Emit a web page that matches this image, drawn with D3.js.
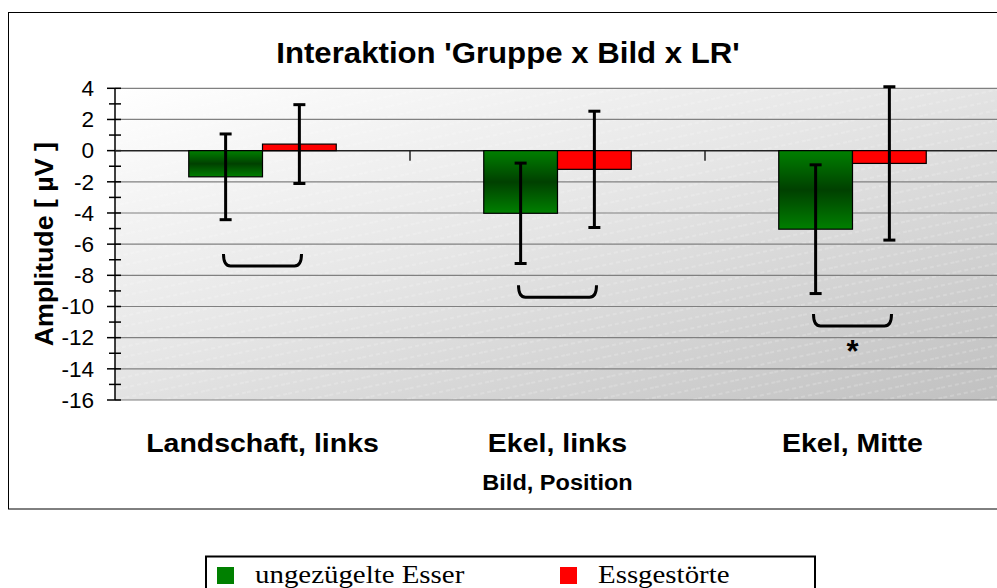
<!DOCTYPE html>
<html>
<head>
<meta charset="utf-8">
<script src="https://cdn.jsdelivr.net/npm/d3@7"></script>
<style>
  html, body { margin: 0; padding: 0; background: #ffffff; }
  svg { display: block; }
</style>
</head>
<body>
<svg id="chart" width="997" height="588"></svg>
<script>
// ---- data ----
const categories = ["Landschaft, links", "Ekel, links", "Ekel, Mitte"];
const seriesNames = ["ungezügelte Esser", "Essgestörte"];
const ungezuegelt = [-1.68, -4.02, -5.04];
const ungezuegeltErr = [2.75, 3.22, 4.13];
const essgestoert = [0.42, -1.2, -0.82];
const essgestoertErr = [2.53, 3.73, 4.92];
const yTicks = [-16, -14, -12, -10, -8, -6, -4, -2, 0, 2, 4];
const bracketLevels = [-7.4, -9.4, -11.25];
const significance = ["", "", "*"];

const titleText = "Interaktion 'Gruppe x Bild x LR'";
const yLabel = "Amplitude [ µV ]";
const xLabel = "Bild, Position";
const seriesColors = ["#008000", "#ff0000"];

// ---- layout ----
const svg = d3.select("#chart");
const plot = { left: 115, right: 1000, top: 88.3, bottom: 400 };
const sans = "Arial, 'Liberation Sans', Helvetica, sans-serif";
const serif = "'Times New Roman', 'Liberation Serif', serif";

const x = d3.scaleBand().domain(categories).range([plot.left, plot.right]);
const groupWidth = x.bandwidth() / 2;
const x1 = d3.scaleBand().domain(seriesNames).range([0, groupWidth]);
const y = d3.scaleLinear().domain([-16, 4]).range([plot.bottom, plot.top]);

// widen text slightly so its measured width follows the given factor
function stretch(sel, k) {
  sel.each(function () {
    const w = this.getComputedTextLength();
    d3.select(this).attr("textLength", w * k).attr("lengthAdjust", "spacingAndGlyphs");
  });
}

const defs = svg.append("defs");
const bg = defs.append("linearGradient").attr("id", "bgGrad")
  .attr("x1", 0).attr("y1", 0).attr("x2", 1).attr("y2", 1);
bg.append("stop").attr("offset", "0%").attr("stop-color", "#ffffff");
bg.append("stop").attr("offset", "45%").attr("stop-color", "#e6e6e6");
bg.append("stop").attr("offset", "100%").attr("stop-color", "#c0c0c0");

const tube = defs.append("linearGradient").attr("id", "greenTube")
  .attr("x1", 0).attr("y1", 0).attr("x2", 0).attr("y2", 1);
tube.append("stop").attr("offset", "0%").attr("stop-color", "#008000");
tube.append("stop").attr("offset", "50%").attr("stop-color", "#004000");
tube.append("stop").attr("offset", "100%").attr("stop-color", "#008000");

const pat = defs.append("pattern").attr("id", "hatch")
  .attr("patternUnits", "userSpaceOnUse").attr("width", 40).attr("height", 10)
  .attr("patternTransform", "rotate(-12)");
pat.append("line").attr("x1", 0).attr("x2", 40).attr("y1", 5).attr("y2", 5)
  .attr("stroke", "#ffffff").attr("stroke-width", 1)
  .attr("stroke-dasharray", "4 3").attr("stroke-opacity", 0.35);

// outer chart frame
svg.append("rect").attr("x", 8.5).attr("y", 12.5).attr("width", 1010).attr("height", 496.5)
  .attr("fill", "#ffffff").attr("stroke", "#000000").attr("stroke-width", 1);

// plot background
svg.append("rect").attr("x", plot.left).attr("y", plot.top)
  .attr("width", plot.right - plot.left).attr("height", plot.bottom - plot.top)
  .attr("fill", "url(#bgGrad)");
svg.append("rect").attr("x", plot.left).attr("y", plot.top)
  .attr("width", plot.right - plot.left).attr("height", plot.bottom - plot.top)
  .attr("fill", "url(#hatch)");

// gridlines
svg.append("g").selectAll("line").data(yTicks.filter(d => d !== 0)).join("line")
  .attr("x1", plot.left).attr("x2", plot.right)
  .attr("y1", d => y(d)).attr("y2", d => y(d))
  .attr("stroke", "#808080").attr("stroke-width", 1.2);

// y axis
const yAxis = svg.append("g").attr("transform", `translate(${plot.left},0)`);
yAxis.append("line").attr("y1", plot.top).attr("y2", plot.bottom)
  .attr("stroke", "#000").attr("stroke-width", 1.5);
yAxis.selectAll("line.minor").data(d3.range(-15, 5, 2)).join("line").attr("class", "minor")
  .attr("x1", -6).attr("x2", 6).attr("y1", d => y(d)).attr("y2", d => y(d))
  .attr("stroke", "#000").attr("stroke-width", 1.5);
yAxis.selectAll("line.major").data(yTicks).join("line").attr("class", "major")
  .attr("x1", -8).attr("x2", 6).attr("y1", d => y(d)).attr("y2", d => y(d))
  .attr("stroke", "#000").attr("stroke-width", 1.5);
yAxis.selectAll("text").data(yTicks).join("text")
  .attr("x", -21).attr("y", d => y(d)).attr("dy", "0.36em")
  .attr("text-anchor", "end").attr("font-family", sans).attr("font-size", 21.5)
  .text(d => d).call(stretch, 1.05);

// category axis along zero
const xAxis = svg.append("g");
xAxis.append("line").attr("x1", plot.left).attr("x2", plot.right)
  .attr("y1", y(0)).attr("y2", y(0)).attr("stroke", "#222").attr("stroke-width", 1.5);
xAxis.selectAll("line.tick").data(categories.slice(1)).join("line").attr("class", "tick")
  .attr("x1", d => x(d)).attr("x2", d => x(d))
  .attr("y1", y(0)).attr("y2", y(0) + 10)
  .attr("stroke", "#222").attr("stroke-width", 1.5);

// bars
const series = [
  { name: seriesNames[0], values: ungezuegelt, err: ungezuegeltErr, fill: "url(#greenTube)" },
  { name: seriesNames[1], values: essgestoert, err: essgestoertErr, fill: seriesColors[1] }
];
const groupStart = c => x(c) + (x.bandwidth() - groupWidth) / 2;
const bars = [];
series.forEach(s => categories.forEach((c, i) => bars.push({
  c, i, name: s.name, v: s.values[i], e: s.err[i], fill: s.fill
})));

svg.append("g").selectAll("rect").data(bars).join("rect")
  .attr("x", d => groupStart(d.c) + x1(d.name))
  .attr("width", x1.bandwidth())
  .attr("y", d => y(Math.max(0, d.v)))
  .attr("height", d => Math.abs(y(d.v) - y(0)))
  .attr("fill", d => d.fill)
  .attr("stroke", "#000").attr("stroke-width", 1.2);

// error bars
const eb = svg.append("g").attr("stroke", "#000").attr("stroke-width", 3);
const cx = d => groupStart(d.c) + x1(d.name) + x1.bandwidth() / 2;
eb.selectAll("line.v").data(bars).join("line").attr("class", "v")
  .attr("x1", cx).attr("x2", cx)
  .attr("y1", d => y(d.v + d.e)).attr("y2", d => y(d.v - d.e));
eb.selectAll("line.t").data(bars).join("line").attr("class", "t")
  .attr("x1", d => cx(d) - 6).attr("x2", d => cx(d) + 6)
  .attr("y1", d => y(d.v + d.e)).attr("y2", d => y(d.v + d.e));
eb.selectAll("line.b").data(bars).join("line").attr("class", "b")
  .attr("x1", d => cx(d) - 6).attr("x2", d => cx(d) + 6)
  .attr("y1", d => y(d.v - d.e)).attr("y2", d => y(d.v - d.e));

// comparison brackets and significance marks
const bracketPath = (c, lvl) => {
  const mid = x(c) + x.bandwidth() / 2;
  const x0 = mid - 39, x2 = mid + 39;
  const yb = y(lvl), yt = yb - 12, r = 7;
  return `M${x0},${yt} Q${x0},${yb} ${x0 + r},${yb} L${x2 - r},${yb} Q${x2},${yb} ${x2},${yt}`;
};
svg.append("g").selectAll("path").data(categories).join("path")
  .attr("d", (c, i) => bracketPath(c, bracketLevels[i]))
  .attr("fill", "none").attr("stroke", "#000").attr("stroke-width", 3);
svg.append("g").selectAll("text").data(categories).join("text")
  .attr("x", c => x(c) + x.bandwidth() / 2)
  .attr("y", (c, i) => y(bracketLevels[i]) + 36)
  .attr("text-anchor", "middle").attr("font-family", sans)
  .attr("font-weight", "bold").attr("font-size", 31)
  .text((c, i) => significance[i]);

// category labels
svg.append("g").selectAll("text").data(categories).join("text")
  .attr("x", c => x(c) + x.bandwidth() / 2).attr("y", 452)
  .attr("text-anchor", "middle").attr("font-family", sans)
  .attr("font-weight", "bold").attr("font-size", 26.5)
  .text(c => c)
  .call(stretch, 1.075);

// axis titles
svg.append("text").attr("x", (plot.left + plot.right) / 2).attr("y", 490)
  .attr("text-anchor", "middle").attr("font-family", sans)
  .attr("font-weight", "bold").attr("font-size", 22)
  .text(xLabel).call(stretch, 1.07);

svg.append("text")
  .attr("transform", `translate(53,${(plot.top + plot.bottom) / 2}) rotate(-90)`)
  .attr("text-anchor", "middle").attr("font-family", sans)
  .attr("font-weight", "bold").attr("font-size", 25)
  .text(yLabel).call(stretch, 1.07);

// title
svg.append("text").attr("x", 508).attr("y", 63)
  .attr("text-anchor", "middle").attr("font-family", sans)
  .attr("font-weight", "bold").attr("font-size", 29)
  .text(titleText).call(stretch, 1.075);

// legend
const legend = svg.append("g");
legend.append("rect").attr("x", 206).attr("y", 556.5).attr("width", 609).attr("height", 60)
  .attr("fill", "#ffffff").attr("stroke", "#000").attr("stroke-width", 2);
const legendX = [217, 560];
const items = legend.selectAll("g.item").data(seriesNames).join("g").attr("class", "item")
  .attr("transform", (d, i) => `translate(${legendX[i]},0)`);
items.append("rect").attr("x", 0).attr("y", 567).attr("width", 17).attr("height", 17)
  .attr("fill", (d, i) => seriesColors[i]);
items.append("text").attr("x", 38).attr("y", 583)
  .attr("font-family", serif).attr("font-size", 25)
  .text(d => d).call(stretch, 1.155);
</script>
</body>
</html>
